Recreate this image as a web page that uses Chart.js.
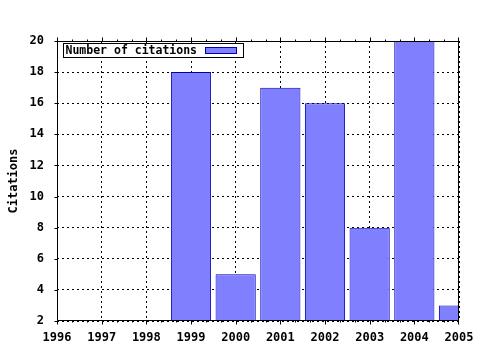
<!DOCTYPE html>
<html>
<head>
<meta charset="utf-8">
<script src="https://cdn.jsdelivr.net/npm/chart.js@4"></script>
<style>
  html, body { margin: 0; padding: 0; background: #fff; }
  #wrap { width: 480px; height: 350px; }
</style>
</head>
<body>
<div id="wrap"><canvas id="myChart" width="480" height="350"></canvas></div>
<script>
// datos
const years = ['1996', '1997', '1998', '1999', '2000', '2001', '2002', '2003', '2004', '2005'];
const citations = [null, null, null, 18, 5, 17, 16, 8, 20, 3];
const yMin = 2;
const yMax = 20;
const yStep = 2;
const serieLabel = 'Number of citations';
const yTitle = 'Citations';

const monoFont = { family: "'DejaVu Sans Mono', 'Liberation Mono', monospace", size: 12, weight: 'bold' };

// bordes, ticks hacia afuera y leyenda tipo gnuplot
const marcoPlugin = {
    id: 'marco',
    afterDraw(chart) {
        const ctx = chart.ctx;
        const a = chart.chartArea;
        const xs = chart.scales.x;
        const ys = chart.scales.y;
        ctx.save();
        ctx.strokeStyle = '#000';
        ctx.lineWidth = 1;
        ctx.setLineDash([]);
        ctx.beginPath();
        const L = Math.round(a.left) + 0.5, R = Math.round(a.right) - 0.5;
        const T = Math.round(a.top) + 0.5, B = Math.round(a.bottom) - 0.5;
        ctx.moveTo(L, T); ctx.lineTo(R, T); ctx.lineTo(R, B); ctx.lineTo(L, B); ctx.closePath();

        // ticks del eje x (abajo y arriba)
        for (let i = 0; i < years.length; i++) {
            const px = Math.min(Math.round(xs.getPixelForValue(i)) + 0.5, R);
            ctx.moveTo(px, B); ctx.lineTo(px, B + 4);
            ctx.moveTo(px, T); ctx.lineTo(px, T - 4);
            if (i < years.length - 1) {
                const next = xs.getPixelForValue(i + 1);
                for (let k = 1; k < 3; k++) {
                    const mx = Math.round(px + (next - px) * k / 3) + 0.5;
                    ctx.moveTo(mx, B); ctx.lineTo(mx, B + 2);
                    ctx.moveTo(mx, T); ctx.lineTo(mx, T - 2);
                }
            }
        }
        // ticks del eje y
        for (let v = yMin; v <= yMax; v += yStep) {
            const py = Math.round(ys.getPixelForValue(v)) + 0.5;
            ctx.moveTo(L, py); ctx.lineTo(L - 3, py);
        }
        ctx.stroke();

        // leyenda
        const ds = chart.data.datasets[0];
        const bx = Math.round(a.left) + 6.5, by = Math.round(a.top) + 2.5;
        ctx.font = `${monoFont.weight} 11.5px ${monoFont.family}`;
        ctx.textBaseline = 'middle';
        ctx.textAlign = 'left';
        const tw = ctx.measureText(ds.label).width;
        const sx = Math.round(bx + 2 + tw + 8) + 0.5;
        const boxW = Math.round(sx - bx + 31 + 7), boxH = 14;
        ctx.fillStyle = '#fff';
        ctx.fillRect(bx, by, boxW, boxH);
        ctx.strokeRect(bx, by, boxW, boxH);
        ctx.fillStyle = '#000';
        ctx.fillText(ds.label, bx + 2, by + boxH / 2 + 1);
        ctx.fillStyle = ds.backgroundColor;
        ctx.fillRect(sx, by + 4, 31, 6);
        ctx.strokeStyle = ds.borderColor;
        ctx.strokeRect(sx, by + 4, 31, 6);
        ctx.restore();
    }
};

const grafica = new Chart(document.getElementById('myChart').getContext('2d'), {
    type: 'bar',
    data: {
        labels: years,
        datasets: [{
            label: serieLabel,
            data: citations,
            backgroundColor: '#8080ff',
            borderColor: '#0000b0',
            borderWidth: 1,
            borderSkipped: false,
            categoryPercentage: 1,
            barPercentage: 0.9
        }]
    },
    plugins: [marcoPlugin],
    options: {
        responsive: false,
        animation: false,
        layout: { padding: { top: 41, right: 21, left: 0, bottom: 0 } },
        plugins: {
            legend: { display: false },
            tooltip: { enabled: false }
        },
        scales: {
            x: {
                offset: false,
                grid: {
                    color: '#000',
                    lineWidth: 1,
                    drawTicks: false,
                    offset: false
                },
                border: { display: false, dash: [2, 3] },
                ticks: { color: '#000', font: monoFont, padding: 10, maxRotation: 0, autoSkip: false },
                afterFit: (scale) => {
                    scale.height = 29;
                    scale.paddingLeft = 0;
                    scale.paddingRight = 0;
                }
            },
            y: {
                min: yMin,
                max: yMax,
                grid: {
                    color: '#000',
                    lineWidth: 1,
                    drawTicks: false
                },
                border: { display: false, dash: [2, 3] },
                ticks: { stepSize: yStep, color: '#000', font: monoFont, padding: 13 },
                title: { display: true, text: yTitle, color: '#000', font: monoFont, padding: { top: 7, bottom: 0 } },
                afterFit: (scale) => {
                    scale.width = 57;
                    scale.paddingTop = 0;
                    scale.paddingBottom = 0;
                }
            }
        }
    }
});
</script>
</body>
</html>
